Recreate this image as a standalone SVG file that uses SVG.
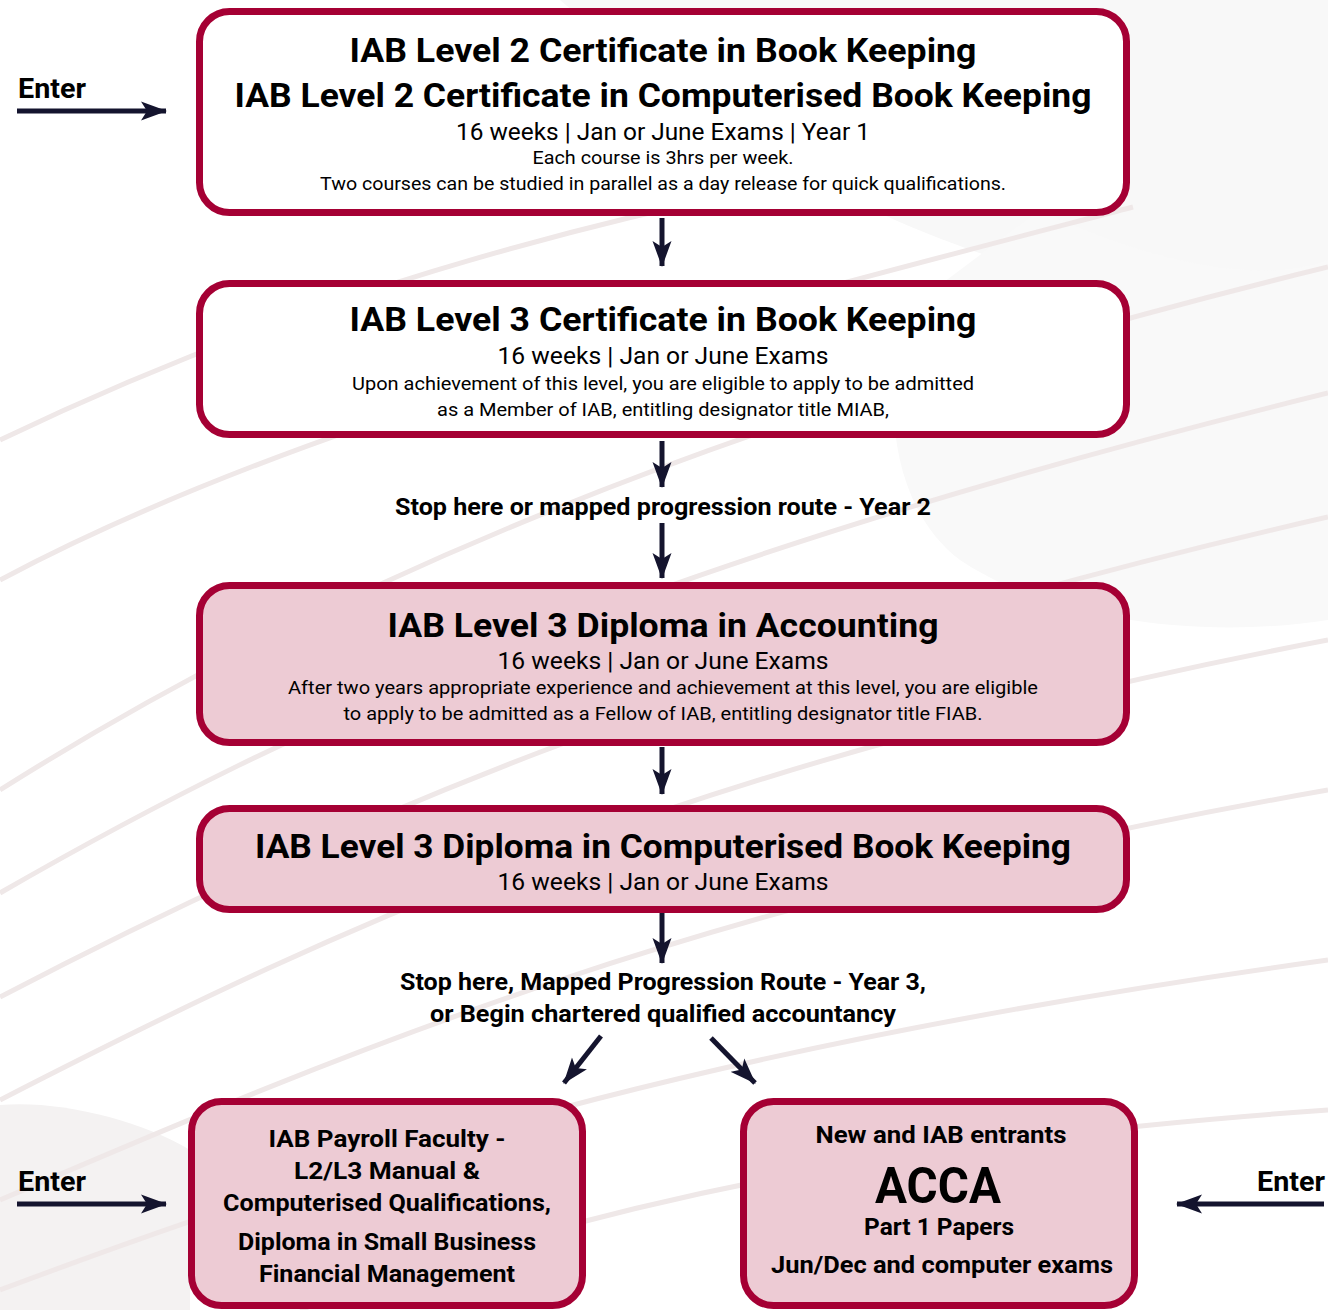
<svg xmlns="http://www.w3.org/2000/svg" width="1328" height="1310" viewBox="0 0 1328 1310">
<defs>
<style>
.box{stroke:#a50034;stroke-width:7}
.w{fill:#ffffff}
.p{fill:#edcbd4}
.t{font-family:Roboto,"Liberation Sans",sans-serif;fill:#000;text-anchor:middle}
.b{font-weight:700}
.h1{font-size:34px}
.h2{font-size:24px}
.h3{font-size:19px}
.lbl{font-size:24px}
.conn{stroke:#14142e;stroke-width:5;fill:none}
.bg{fill:none;stroke:#efe8e8;stroke-width:5}
</style>
<marker id="ah" viewBox="0 0 26 20" refX="25" refY="10" markerWidth="26" markerHeight="20" markerUnits="userSpaceOnUse" orient="auto">
<path d="M0,0.5 L26,10 L0,19.5 L6,10 Z" fill="#14142e"/>
</marker>
</defs>
<rect width="1328" height="1310" fill="#ffffff"/>
<g id="background">
<path d="M560,0 C700,120 820,200 1000,260 C1150,310 1300,290 1328,280 L1328,0 Z" fill="#f8f8f8"/>
<path d="M1040,210 C1120,250 1250,290 1328,260 L1328,620 C1200,640 1050,620 960,560 C880,500 880,360 920,300 Z" fill="#f9f9f9"/>
<path d="M0,1105 C60,1100 140,1120 190,1150 L190,1310 L0,1310 Z" fill="#f4f2f2"/>
<path class="bg" d="M0,790 C300,600 700,420 1328,267"/>
<path class="bg" d="M0,893 C300,720 650,560 1328,393"/>
<path class="bg" d="M0,997 C300,840 700,660 1328,517"/>
<path class="bg" d="M0,1100 C350,920 700,760 1328,640"/>
<path class="bg" d="M0,1200 C350,1050 700,900 1328,790"/>
<path class="bg" d="M0,1290 C400,1140 750,1040 1328,960"/>
<path class="bg" d="M300,1310 C600,1200 900,1140 1328,1110"/>
<path class="bg" d="M0,580 C300,420 700,320 1133,207"/>
<path class="bg" d="M0,440 C250,320 500,240 800,180"/>
</g>
<g id="connectors">
<line class="conn" x1="662" y1="218" x2="662" y2="266" marker-end="url(#ah)"/>
<line class="conn" x1="662" y1="441" x2="662" y2="487" marker-end="url(#ah)"/>
<line class="conn" x1="662" y1="523" x2="662" y2="578" marker-end="url(#ah)"/>
<line class="conn" x1="662" y1="747" x2="662" y2="794" marker-end="url(#ah)"/>
<line class="conn" x1="662" y1="913" x2="662" y2="963" marker-end="url(#ah)"/>
<line class="conn" x1="601" y1="1036" x2="564" y2="1083" marker-end="url(#ah)"/>
<line class="conn" x1="711" y1="1038" x2="755" y2="1083" marker-end="url(#ah)"/>
<line class="conn" x1="17" y1="111" x2="166" y2="111" marker-end="url(#ah)"/>
<line class="conn" x1="17" y1="1204" x2="166" y2="1204" marker-end="url(#ah)"/>
<line class="conn" x1="1324" y1="1204" x2="1177" y2="1204" marker-end="url(#ah)"/>
</g>
<g id="labels">
<text class="t b" style="text-anchor:start;font-size:27px" x="18" y="98" textLength="68" lengthAdjust="spacingAndGlyphs">Enter</text>
<text class="t b" style="text-anchor:start;font-size:27px" x="18" y="1191" textLength="68" lengthAdjust="spacingAndGlyphs">Enter</text>
<text class="t b" style="text-anchor:end;font-size:27px" x="1325" y="1191" textLength="68" lengthAdjust="spacingAndGlyphs">Enter</text>
<text class="t b lbl" x="663" y="515" textLength="536" lengthAdjust="spacingAndGlyphs">Stop here or mapped progression route - Year 2</text>
<text class="t b lbl" x="663" y="990" textLength="526" lengthAdjust="spacingAndGlyphs">Stop here, Mapped Progression Route - Year 3,</text>
<text class="t b lbl" x="663" y="1022" textLength="466" lengthAdjust="spacingAndGlyphs">or Begin chartered qualified accountancy</text>
</g>
<g id="node-l2">
<rect class="box w" x="199.5" y="11.5" width="927" height="201" rx="30"/>
<text class="t b h1" x="663" y="62" textLength="627" lengthAdjust="spacingAndGlyphs">IAB Level 2 Certificate in Book Keeping</text>
<text class="t b h1" x="663" y="107" textLength="857" lengthAdjust="spacingAndGlyphs">IAB Level 2 Certificate in Computerised Book Keeping</text>
<text class="t h2" x="663" y="140" textLength="414" lengthAdjust="spacingAndGlyphs">16 weeks | Jan or June Exams | Year 1</text>
<text class="t h3" x="663" y="164" textLength="261" lengthAdjust="spacingAndGlyphs">Each course is 3hrs per week.</text>
<text class="t h3" x="663" y="190" textLength="686" lengthAdjust="spacingAndGlyphs">Two courses can be studied in parallel as a day release for quick qualifications.</text>
</g>
<g id="node-l3cert">
<rect class="box w" x="199.5" y="283.5" width="927" height="151" rx="30"/>
<text class="t b h1" x="663" y="331" textLength="627" lengthAdjust="spacingAndGlyphs">IAB Level 3 Certificate in Book Keeping</text>
<text class="t h2" x="663" y="364" textLength="331" lengthAdjust="spacingAndGlyphs">16 weeks | Jan or June Exams</text>
<text class="t h3" x="663" y="390" textLength="622" lengthAdjust="spacingAndGlyphs">Upon achievement of this level, you are eligible to apply to be admitted</text>
<text class="t h3" x="663" y="416" textLength="452" lengthAdjust="spacingAndGlyphs">as a Member of IAB, entitling designator title MIAB,</text>
</g>
<g id="node-l3dip">
<rect class="box p" x="199.5" y="585.5" width="927" height="157" rx="30"/>
<text class="t b h1" x="663" y="637" textLength="551" lengthAdjust="spacingAndGlyphs">IAB Level 3 Diploma in Accounting</text>
<text class="t h2" x="663" y="669" textLength="331" lengthAdjust="spacingAndGlyphs">16 weeks | Jan or June Exams</text>
<text class="t h3" x="663" y="694" textLength="750" lengthAdjust="spacingAndGlyphs">After two years appropriate experience and achievement at this level, you are eligible</text>
<text class="t h3" x="663" y="720" textLength="639" lengthAdjust="spacingAndGlyphs">to apply to be admitted as a Fellow of IAB, entitling designator title FIAB.</text>
</g>
<g id="node-l3cbk">
<rect class="box p" x="199.5" y="808.5" width="927" height="101" rx="30"/>
<text class="t b h1" x="663" y="858" textLength="816" lengthAdjust="spacingAndGlyphs">IAB Level 3 Diploma in Computerised Book Keeping</text>
<text class="t h2" x="663" y="890" textLength="331" lengthAdjust="spacingAndGlyphs">16 weeks | Jan or June Exams</text>
</g>
<g id="node-payroll">
<rect class="box p" x="191.5" y="1101.5" width="391" height="204" rx="30"/>
<text class="t b h2" x="387" y="1147" textLength="237" lengthAdjust="spacingAndGlyphs">IAB Payroll Faculty -</text>
<text class="t b h2" x="387" y="1179" textLength="186" lengthAdjust="spacingAndGlyphs">L2/L3 Manual &amp;</text>
<text class="t b h2" x="387" y="1211" textLength="328" lengthAdjust="spacingAndGlyphs">Computerised Qualifications,</text>
<text class="t b h2" x="387" y="1250" textLength="298" lengthAdjust="spacingAndGlyphs">Diploma in Small Business</text>
<text class="t b h2" x="387" y="1282" textLength="256" lengthAdjust="spacingAndGlyphs">Financial Management</text>
</g>
<g id="node-acca">
<rect class="box p" x="743.5" y="1101.5" width="391" height="204" rx="30"/>
<text class="t b h2" x="941" y="1143" textLength="251" lengthAdjust="spacingAndGlyphs">New and IAB entrants</text>
<text class="t b" style="font-size:50px" x="938" y="1203" textLength="126" lengthAdjust="spacingAndGlyphs">ACCA</text>
<text class="t b h2" x="939" y="1235" textLength="150" lengthAdjust="spacingAndGlyphs">Part 1 Papers</text>
<text class="t b h2" x="942" y="1273" textLength="342" lengthAdjust="spacingAndGlyphs">Jun/Dec and computer exams</text>
</g>
</svg>
